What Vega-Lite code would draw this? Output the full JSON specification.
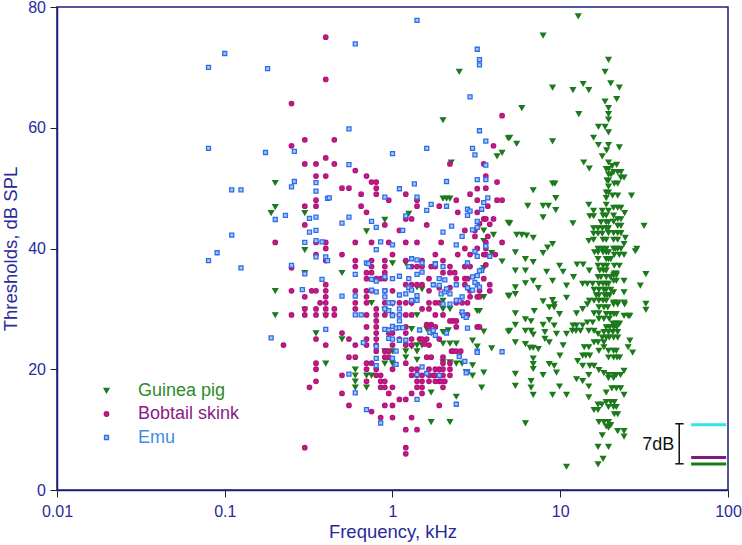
{
"$schema": "https://vega.github.io/schema/vega-lite/v6.json",
"width": 671, "height": 483,
"autosize": {"type": "none"},
"padding": {"left": 57, "top": 7, "right": 14, "bottom": 55},
"background": "white",
"config": {"view": {"stroke": "#1d1d80", "strokeWidth": 1.5}, "font": "Liberation Sans"},
"datasets": {
"pts": [
{"sp":"Guinea pig","f":0.2,"t":50.9},{"sp":"Guinea pig","f":0.2,"t":46.9},{"sp":"Guinea pig","f":0.189,"t":45.9},{"sp":"Guinea pig","f":0.3,"t":45.9},{"sp":"Guinea pig","f":0.3,"t":39.8},{"sp":"Guinea pig","f":0.3,"t":36.0},{"sp":"Guinea pig","f":0.2,"t":33.0},{"sp":"Guinea pig","f":0.2,"t":29.0},{"sp":"Guinea pig","f":0.3,"t":29.9},{"sp":"Guinea pig","f":0.35,"t":26.0},{"sp":"Guinea pig","f":0.4,"t":28.9},{"sp":"Guinea pig","f":0.4,"t":21.0},{"sp":"Guinea pig","f":0.5,"t":36.0},{"sp":"Guinea pig","f":0.5,"t":25.0},{"sp":"Guinea pig","f":0.6,"t":20.0},{"sp":"Guinea pig","f":0.6,"t":19.0},{"sp":"Guinea pig","f":0.6,"t":18.0},{"sp":"Guinea pig","f":0.6,"t":17.0},{"sp":"Guinea pig","f":0.7,"t":19.0},{"sp":"Guinea pig","f":0.75,"t":19.0},{"sp":"Guinea pig","f":0.7,"t":17.0},{"sp":"Guinea pig","f":0.7,"t":42.9},{"sp":"Guinea pig","f":0.75,"t":31.0},{"sp":"Guinea pig","f":0.9,"t":44.8},{"sp":"Guinea pig","f":0.9,"t":29.9},{"sp":"Guinea pig","f":0.9,"t":23.0},{"sp":"Guinea pig","f":0.9,"t":21.0},{"sp":"Guinea pig","f":1.0,"t":37.6},{"sp":"Guinea pig","f":1.0,"t":30.9},{"sp":"Guinea pig","f":1.0,"t":23.0},{"sp":"Guinea pig","f":1.0,"t":21.0},{"sp":"Guinea pig","f":1.2,"t":37.6},{"sp":"Guinea pig","f":1.2,"t":23.0},{"sp":"Guinea pig","f":1.2,"t":22.0},{"sp":"Guinea pig","f":1.25,"t":45.8},{"sp":"Guinea pig","f":1.3,"t":30.9},{"sp":"Guinea pig","f":1.3,"t":26.7},{"sp":"Guinea pig","f":1.3,"t":23.8},{"sp":"Guinea pig","f":1.4,"t":33.6},{"sp":"Guinea pig","f":1.4,"t":29.0},{"sp":"Guinea pig","f":1.4,"t":24.0},{"sp":"Guinea pig","f":1.4,"t":23.0},{"sp":"Guinea pig","f":1.4,"t":21.6},{"sp":"Guinea pig","f":1.5,"t":33.3},{"sp":"Guinea pig","f":1.5,"t":24.0},{"sp":"Guinea pig","f":1.6,"t":26.7},{"sp":"Guinea pig","f":1.7,"t":26.0},{"sp":"Guinea pig","f":1.7,"t":11.3},{"sp":"Guinea pig","f":1.7,"t":16.2},{"sp":"Guinea pig","f":2.0,"t":61.3},{"sp":"Guinea pig","f":2.0,"t":48.3},{"sp":"Guinea pig","f":2.1,"t":48.3},{"sp":"Guinea pig","f":2.2,"t":48.3},{"sp":"Guinea pig","f":2.24,"t":54.3},{"sp":"Guinea pig","f":2.5,"t":69.3},{"sp":"Guinea pig","f":2.0,"t":31.4},{"sp":"Guinea pig","f":2.0,"t":30.0},{"sp":"Guinea pig","f":2.2,"t":30.0},{"sp":"Guinea pig","f":2.6,"t":29.0},{"sp":"Guinea pig","f":2.0,"t":26.2},{"sp":"Guinea pig","f":2.15,"t":26.5},{"sp":"Guinea pig","f":2.0,"t":24.3},{"sp":"Guinea pig","f":2.2,"t":24.3},{"sp":"Guinea pig","f":2.4,"t":24.3},{"sp":"Guinea pig","f":2.0,"t":21.2},{"sp":"Guinea pig","f":2.2,"t":21.2},{"sp":"Guinea pig","f":2.4,"t":21.0},{"sp":"Guinea pig","f":2.6,"t":21.0},{"sp":"Guinea pig","f":2.2,"t":11.3},{"sp":"Guinea pig","f":2.4,"t":15.5},{"sp":"Guinea pig","f":2.75,"t":19.6},{"sp":"Guinea pig","f":3.0,"t":20.7},{"sp":"Guinea pig","f":3.0,"t":19.0},{"sp":"Guinea pig","f":3.0,"t":24.8},{"sp":"Guinea pig","f":3.2,"t":23.8},{"sp":"Guinea pig","f":3.2,"t":29.7},{"sp":"Guinea pig","f":3.3,"t":29.7},{"sp":"Guinea pig","f":3.4,"t":17.0},{"sp":"Guinea pig","f":3.5,"t":19.5},{"sp":"Guinea pig","f":3.5,"t":26.3},{"sp":"Guinea pig","f":3.5,"t":32.0},{"sp":"Guinea pig","f":3.5,"t":36.8},{"sp":"Guinea pig","f":3.5,"t":43.0},{"sp":"Guinea pig","f":3.5,"t":41.3},{"sp":"Guinea pig","f":3.9,"t":23.5},{"sp":"Guinea pig","f":3.9,"t":39.3},{"sp":"Guinea pig","f":4.0,"t":42.3},{"sp":"Guinea pig","f":4.2,"t":55.3},{"sp":"Guinea pig","f":4.5,"t":55.9},{"sp":"Guinea pig","f":4.5,"t":37.9},{"sp":"Guinea pig","f":4.9,"t":58.3},{"sp":"Guinea pig","f":4.9,"t":44.3},{"sp":"Guinea pig","f":4.9,"t":32.2},{"sp":"Guinea pig","f":4.9,"t":26.3},
{"sp":"Guinea pig","f":12.8,"t":78.5},{"sp":"Guinea pig","f":7.9,"t":75.3},{"sp":"Guinea pig","f":19.4,"t":71.3},{"sp":"Guinea pig","f":18.5,"t":69.3},{"sp":"Guinea pig","f":20.0,"t":67.4},{"sp":"Guinea pig","f":13.7,"t":67.3},{"sp":"Guinea pig","f":14.8,"t":66.3},{"sp":"Guinea pig","f":22.5,"t":66.7},{"sp":"Guinea pig","f":9.0,"t":66.7},{"sp":"Guinea pig","f":11.9,"t":66.3},{"sp":"Guinea pig","f":21.7,"t":64.8},{"sp":"Guinea pig","f":18.5,"t":64.4},{"sp":"Guinea pig","f":5.9,"t":63.3},{"sp":"Guinea pig","f":12.9,"t":62.3},{"sp":"Guinea pig","f":19.4,"t":63.3},{"sp":"Guinea pig","f":19.4,"t":62.3},{"sp":"Guinea pig","f":19.4,"t":61.4},{"sp":"Guinea pig","f":16.9,"t":60.2},{"sp":"Guinea pig","f":18.5,"t":60.2},{"sp":"Guinea pig","f":19.4,"t":59.3},{"sp":"Guinea pig","f":5.0,"t":58.4},{"sp":"Guinea pig","f":5.5,"t":57.4},{"sp":"Guinea pig","f":9.0,"t":57.8},{"sp":"Guinea pig","f":15.8,"t":58.4},{"sp":"Guinea pig","f":16.9,"t":57.2},{"sp":"Guinea pig","f":19.4,"t":57.2},{"sp":"Guinea pig","f":22.5,"t":56.8},{"sp":"Guinea pig","f":18.9,"t":56.3},{"sp":"Guinea pig","f":17.8,"t":55.3},{"sp":"Guinea pig","f":13.8,"t":54.3},{"sp":"Guinea pig","f":14.9,"t":53.3},{"sp":"Guinea pig","f":19.4,"t":54.3},{"sp":"Guinea pig","f":20.4,"t":53.7},{"sp":"Guinea pig","f":21.7,"t":53.9},{"sp":"Guinea pig","f":18.8,"t":53.2},{"sp":"Guinea pig","f":19.4,"t":53.2},{"sp":"Guinea pig","f":20.8,"t":52.7},{"sp":"Guinea pig","f":22.0,"t":52.7},{"sp":"Guinea pig","f":23.0,"t":52.7},{"sp":"Guinea pig","f":19.4,"t":52.3},{"sp":"Guinea pig","f":20.1,"t":52.3},{"sp":"Guinea pig","f":23.0,"t":51.8},{"sp":"Guinea pig","f":24.0,"t":51.8},{"sp":"Guinea pig","f":19.0,"t":51.3},{"sp":"Guinea pig","f":19.4,"t":51.3},{"sp":"Guinea pig","f":21.0,"t":50.8},{"sp":"Guinea pig","f":22.0,"t":50.8},{"sp":"Guinea pig","f":19.4,"t":50.3},{"sp":"Guinea pig","f":9.0,"t":50.8},{"sp":"Guinea pig","f":9.3,"t":50.8},{"sp":"Guinea pig","f":6.9,"t":49.7},{"sp":"Guinea pig","f":18.8,"t":49.3},{"sp":"Guinea pig","f":19.4,"t":49.3},{"sp":"Guinea pig","f":20.5,"t":48.8},{"sp":"Guinea pig","f":22.0,"t":48.8},{"sp":"Guinea pig","f":26.6,"t":48.8},{"sp":"Guinea pig","f":18.8,"t":48.4},{"sp":"Guinea pig","f":9.4,"t":48.4},{"sp":"Guinea pig","f":6.4,"t":47.1},{"sp":"Guinea pig","f":7.9,"t":47.1},{"sp":"Guinea pig","f":8.5,"t":47.1},{"sp":"Guinea pig","f":9.4,"t":46.4},{"sp":"Guinea pig","f":14.8,"t":47.3},{"sp":"Guinea pig","f":18.8,"t":47.3},{"sp":"Guinea pig","f":15.8,"t":46.3},{"sp":"Guinea pig","f":17.8,"t":46.3},{"sp":"Guinea pig","f":19.4,"t":46.3},{"sp":"Guinea pig","f":20.8,"t":46.8},{"sp":"Guinea pig","f":22.0,"t":46.8},{"sp":"Guinea pig","f":23.0,"t":46.8},{"sp":"Guinea pig","f":15.0,"t":45.4},{"sp":"Guinea pig","f":15.8,"t":45.4},{"sp":"Guinea pig","f":18.0,"t":45.5},{"sp":"Guinea pig","f":18.8,"t":45.5},{"sp":"Guinea pig","f":20.8,"t":45.5},{"sp":"Guinea pig","f":24.2,"t":45.9},{"sp":"Guinea pig","f":7.9,"t":45.2},{"sp":"Guinea pig","f":22.0,"t":44.9},{"sp":"Guinea pig","f":23.0,"t":44.9},{"sp":"Guinea pig","f":5.0,"t":44.2},{"sp":"Guinea pig","f":11.9,"t":44.2},{"sp":"Guinea pig","f":17.5,"t":44.4},{"sp":"Guinea pig","f":18.8,"t":44.4},{"sp":"Guinea pig","f":19.4,"t":44.4},{"sp":"Guinea pig","f":20.8,"t":44.5},{"sp":"Guinea pig","f":31.6,"t":43.8},{"sp":"Guinea pig","f":15.8,"t":43.4},{"sp":"Guinea pig","f":16.8,"t":43.4},{"sp":"Guinea pig","f":17.8,"t":43.4},{"sp":"Guinea pig","f":18.8,"t":43.4},{"sp":"Guinea pig","f":19.4,"t":43.4},{"sp":"Guinea pig","f":22.0,"t":43.8},{"sp":"Guinea pig","f":23.0,"t":43.8},{"sp":"Guinea pig","f":5.5,"t":42.3},{"sp":"Guinea pig","f":5.9,"t":42.3},{"sp":"Guinea pig","f":6.3,"t":42.2},{"sp":"Guinea pig","f":6.9,"t":41.8},{"sp":"Guinea pig","f":8.4,"t":40.2},{"sp":"Guinea pig","f":9.0,"t":40.8},{"sp":"Guinea pig","f":15.8,"t":42.5},{"sp":"Guinea pig","f":16.8,"t":42.5},{"sp":"Guinea pig","f":17.8,"t":42.5},{"sp":"Guinea pig","f":19.4,"t":42.6},{"sp":"Guinea pig","f":20.8,"t":42.6},{"sp":"Guinea pig","f":22.0,"t":42.6},{"sp":"Guinea pig","f":23.0,"t":42.6},{"sp":"Guinea pig","f":14.8,"t":41.3},{"sp":"Guinea pig","f":15.8,"t":41.5},{"sp":"Guinea pig","f":18.0,"t":41.5},{"sp":"Guinea pig","f":18.8,"t":41.5},{"sp":"Guinea pig","f":20.8,"t":41.5},{"sp":"Guinea pig","f":22.0,"t":41.5},{"sp":"Guinea pig","f":24.4,"t":41.8},{"sp":"Guinea pig","f":24.0,"t":40.8},{"sp":"Guinea pig","f":28.6,"t":40.0},{"sp":"Guinea pig","f":16.8,"t":40.0},{"sp":"Guinea pig","f":17.8,"t":40.0},{"sp":"Guinea pig","f":18.8,"t":40.0},{"sp":"Guinea pig","f":20.8,"t":40.0},{"sp":"Guinea pig","f":21.3,"t":40.0},{"sp":"Guinea pig","f":22.0,"t":40.0},{"sp":"Guinea pig","f":23.0,"t":40.0},
{"sp":"Guinea pig","f":5.4,"t":39.4},{"sp":"Guinea pig","f":7.9,"t":39.3},{"sp":"Guinea pig","f":16.0,"t":39.4},{"sp":"Guinea pig","f":16.8,"t":39.4},{"sp":"Guinea pig","f":18.0,"t":39.4},{"sp":"Guinea pig","f":18.8,"t":39.4},{"sp":"Guinea pig","f":19.4,"t":39.4},{"sp":"Guinea pig","f":21.0,"t":39.0},{"sp":"Guinea pig","f":22.5,"t":39.0},{"sp":"Guinea pig","f":24.0,"t":39.0},{"sp":"Guinea pig","f":28.0,"t":39.6},{"sp":"Guinea pig","f":6.2,"t":38.3},{"sp":"Guinea pig","f":6.9,"t":37.8},{"sp":"Guinea pig","f":9.9,"t":37.2},{"sp":"Guinea pig","f":12.6,"t":37.4},{"sp":"Guinea pig","f":13.7,"t":37.4},{"sp":"Guinea pig","f":16.8,"t":38.3},{"sp":"Guinea pig","f":18.8,"t":38.3},{"sp":"Guinea pig","f":19.4,"t":38.3},{"sp":"Guinea pig","f":20.0,"t":38.3},{"sp":"Guinea pig","f":16.8,"t":37.2},{"sp":"Guinea pig","f":18.0,"t":37.2},{"sp":"Guinea pig","f":19.0,"t":37.2},{"sp":"Guinea pig","f":21.0,"t":37.2},{"sp":"Guinea pig","f":22.5,"t":37.2},{"sp":"Guinea pig","f":5.4,"t":36.4},{"sp":"Guinea pig","f":6.2,"t":36.4},{"sp":"Guinea pig","f":8.3,"t":36.2},{"sp":"Guinea pig","f":10.4,"t":36.2},{"sp":"Guinea pig","f":14.9,"t":36.4},{"sp":"Guinea pig","f":17.2,"t":36.4},{"sp":"Guinea pig","f":18.1,"t":36.4},{"sp":"Guinea pig","f":18.8,"t":36.4},{"sp":"Guinea pig","f":21.0,"t":35.9},{"sp":"Guinea pig","f":21.6,"t":35.9},{"sp":"Guinea pig","f":32.4,"t":35.8},{"sp":"Guinea pig","f":12.0,"t":35.3},{"sp":"Guinea pig","f":16.8,"t":35.3},{"sp":"Guinea pig","f":17.5,"t":35.3},{"sp":"Guinea pig","f":18.8,"t":35.3},{"sp":"Guinea pig","f":19.9,"t":35.3},{"sp":"Guinea pig","f":20.8,"t":35.6},{"sp":"Guinea pig","f":21.6,"t":35.6},{"sp":"Guinea pig","f":5.4,"t":33.6},{"sp":"Guinea pig","f":5.4,"t":32.5},{"sp":"Guinea pig","f":6.2,"t":34.3},{"sp":"Guinea pig","f":6.9,"t":34.7},{"sp":"Guinea pig","f":7.4,"t":33.5},{"sp":"Guinea pig","f":9.0,"t":34.7},{"sp":"Guinea pig","f":10.9,"t":33.9},{"sp":"Guinea pig","f":13.6,"t":34.2},{"sp":"Guinea pig","f":14.5,"t":34.2},{"sp":"Guinea pig","f":15.6,"t":34.2},{"sp":"Guinea pig","f":17.0,"t":34.2},{"sp":"Guinea pig","f":18.0,"t":34.2},{"sp":"Guinea pig","f":18.8,"t":34.2},{"sp":"Guinea pig","f":19.4,"t":34.2},{"sp":"Guinea pig","f":20.8,"t":34.7},{"sp":"Guinea pig","f":21.6,"t":34.7},{"sp":"Guinea pig","f":24.0,"t":34.7},{"sp":"Guinea pig","f":30.0,"t":33.9},{"sp":"Guinea pig","f":4.97,"t":32.2},{"sp":"Guinea pig","f":7.9,"t":31.3},{"sp":"Guinea pig","f":9.0,"t":31.5},{"sp":"Guinea pig","f":9.2,"t":30.8},{"sp":"Guinea pig","f":10.9,"t":31.9},{"sp":"Guinea pig","f":15.9,"t":33.2},{"sp":"Guinea pig","f":17.0,"t":33.2},{"sp":"Guinea pig","f":18.2,"t":33.2},{"sp":"Guinea pig","f":18.8,"t":33.2},{"sp":"Guinea pig","f":20.0,"t":33.2},{"sp":"Guinea pig","f":20.8,"t":32.8},{"sp":"Guinea pig","f":24.0,"t":32.8},{"sp":"Guinea pig","f":16.4,"t":32.3},{"sp":"Guinea pig","f":17.0,"t":32.3},{"sp":"Guinea pig","f":18.4,"t":32.3},{"sp":"Guinea pig","f":19.0,"t":32.3},{"sp":"Guinea pig","f":19.7,"t":32.3},{"sp":"Guinea pig","f":14.9,"t":31.4},{"sp":"Guinea pig","f":15.9,"t":31.4},{"sp":"Guinea pig","f":17.0,"t":31.4},{"sp":"Guinea pig","f":18.0,"t":31.4},{"sp":"Guinea pig","f":18.8,"t":31.4},{"sp":"Guinea pig","f":20.8,"t":31.1},{"sp":"Guinea pig","f":22.0,"t":31.1},{"sp":"Guinea pig","f":24.0,"t":31.1},{"sp":"Guinea pig","f":14.5,"t":30.8},{"sp":"Guinea pig","f":32.4,"t":30.9},{"sp":"Guinea pig","f":32.4,"t":29.9},{"sp":"Guinea pig","f":7.0,"t":29.7},{"sp":"Guinea pig","f":8.6,"t":30.3},{"sp":"Guinea pig","f":9.2,"t":30.3},{"sp":"Guinea pig","f":12.5,"t":29.3},{"sp":"Guinea pig","f":13.6,"t":30.0},{"sp":"Guinea pig","f":17.0,"t":30.3},{"sp":"Guinea pig","f":18.2,"t":30.3},{"sp":"Guinea pig","f":19.2,"t":30.3},{"sp":"Guinea pig","f":20.8,"t":30.8},{"sp":"Guinea pig","f":22.0,"t":30.8},{"sp":"Guinea pig","f":24.2,"t":30.8},{"sp":"Guinea pig","f":15.9,"t":29.3},{"sp":"Guinea pig","f":17.0,"t":29.3},{"sp":"Guinea pig","f":18.8,"t":29.2},{"sp":"Guinea pig","f":19.9,"t":29.2},{"sp":"Guinea pig","f":20.9,"t":29.2},{"sp":"Guinea pig","f":21.6,"t":29.2},{"sp":"Guinea pig","f":24.0,"t":28.9},{"sp":"Guinea pig","f":25.4,"t":28.9},{"sp":"Guinea pig","f":26.0,"t":28.9},{"sp":"Guinea pig","f":5.4,"t":29.3},{"sp":"Guinea pig","f":6.2,"t":28.3},{"sp":"Guinea pig","f":6.7,"t":28.0},{"sp":"Guinea pig","f":5.0,"t":26.4},{"sp":"Guinea pig","f":5.4,"t":27.4},{"sp":"Guinea pig","f":7.9,"t":27.4},{"sp":"Guinea pig","f":8.6,"t":28.2},{"sp":"Guinea pig","f":9.9,"t":29.2},{"sp":"Guinea pig","f":9.2,"t":27.3},{"sp":"Guinea pig","f":11.9,"t":27.3},{"sp":"Guinea pig","f":12.5,"t":27.3},{"sp":"Guinea pig","f":13.6,"t":27.3},{"sp":"Guinea pig","f":14.5,"t":27.8},{"sp":"Guinea pig","f":15.6,"t":27.8},{"sp":"Guinea pig","f":17.0,"t":28.4},{"sp":"Guinea pig","f":18.2,"t":28.4},{"sp":"Guinea pig","f":19.6,"t":28.4},{"sp":"Guinea pig","f":20.6,"t":27.6},{"sp":"Guinea pig","f":21.6,"t":27.6},{"sp":"Guinea pig","f":22.6,"t":27.6},{"sp":"Guinea pig","f":18.8,"t":27.0},{"sp":"Guinea pig","f":19.7,"t":27.0},{"sp":"Guinea pig","f":20.8,"t":27.0},{"sp":"Guinea pig","f":21.7,"t":27.0},{"sp":"Guinea pig","f":6.2,"t":26.4},{"sp":"Guinea pig","f":6.7,"t":26.4},{"sp":"Guinea pig","f":6.9,"t":25.8},{"sp":"Guinea pig","f":8.1,"t":26.2},{"sp":"Guinea pig","f":8.1,"t":25.1},{"sp":"Guinea pig","f":9.5,"t":25.9},{"sp":"Guinea pig","f":10.9,"t":25.9},{"sp":"Guinea pig","f":11.8,"t":26.4},{"sp":"Guinea pig","f":12.4,"t":26.4},{"sp":"Guinea pig","f":13.2,"t":26.4},{"sp":"Guinea pig","f":14.8,"t":26.4},{"sp":"Guinea pig","f":15.9,"t":26.4},{"sp":"Guinea pig","f":16.8,"t":25.9},{"sp":"Guinea pig","f":18.2,"t":26.2},{"sp":"Guinea pig","f":19.4,"t":26.2},{"sp":"Guinea pig","f":20.6,"t":26.2},{"sp":"Guinea pig","f":22.0,"t":26.2},{"sp":"Guinea pig","f":17.8,"t":25.3},{"sp":"Guinea pig","f":18.8,"t":25.3},{"sp":"Guinea pig","f":19.6,"t":25.3},{"sp":"Guinea pig","f":20.8,"t":25.3},{"sp":"Guinea pig","f":22.0,"t":25.3},{"sp":"Guinea pig","f":26.0,"t":24.8},{"sp":"Guinea pig","f":5.4,"t":24.5},{"sp":"Guinea pig","f":6.2,"t":24.2},{"sp":"Guinea pig","f":6.6,"t":23.6},{"sp":"Guinea pig","f":6.9,"t":23.6},{"sp":"Guinea pig","f":7.4,"t":23.4},{"sp":"Guinea pig","f":8.6,"t":24.5},{"sp":"Guinea pig","f":10.4,"t":24.0},{"sp":"Guinea pig","f":13.9,"t":23.7},{"sp":"Guinea pig","f":14.8,"t":23.7},{"sp":"Guinea pig","f":15.9,"t":24.5},{"sp":"Guinea pig","f":16.8,"t":24.5},{"sp":"Guinea pig","f":18.2,"t":24.5},{"sp":"Guinea pig","f":19.4,"t":23.1},{"sp":"Guinea pig","f":20.8,"t":23.1},{"sp":"Guinea pig","f":21.6,"t":23.1},{"sp":"Guinea pig","f":17.0,"t":23.1},{"sp":"Guinea pig","f":18.2,"t":23.7},{"sp":"Guinea pig","f":25.4,"t":23.7},{"sp":"Guinea pig","f":27.0,"t":22.8},{"sp":"Guinea pig","f":19.4,"t":22.0},{"sp":"Guinea pig","f":20.8,"t":22.0},{"sp":"Guinea pig","f":21.8,"t":22.0},{"sp":"Guinea pig","f":22.6,"t":22.0},{"sp":"Guinea pig","f":12.7,"t":21.4},{"sp":"Guinea pig","f":13.6,"t":22.3},{"sp":"Guinea pig","f":14.2,"t":22.3},{"sp":"Guinea pig","f":15.0,"t":22.3},{"sp":"Guinea pig","f":9.2,"t":20.6},{"sp":"Guinea pig","f":8.6,"t":20.9},{"sp":"Guinea pig","f":9.95,"t":22.3},{"sp":"Guinea pig","f":6.9,"t":21.8},{"sp":"Guinea pig","f":6.9,"t":20.9},{"sp":"Guinea pig","f":6.9,"t":20.1},{"sp":"Guinea pig","f":13.6,"t":20.6},{"sp":"Guinea pig","f":15.0,"t":20.6},{"sp":"Guinea pig","f":15.9,"t":20.6},{"sp":"Guinea pig","f":17.0,"t":19.9},{"sp":"Guinea pig","f":18.2,"t":19.4},{"sp":"Guinea pig","f":19.4,"t":19.1},{"sp":"Guinea pig","f":20.8,"t":19.1},{"sp":"Guinea pig","f":21.6,"t":19.1},{"sp":"Guinea pig","f":22.9,"t":19.1},{"sp":"Guinea pig","f":24.0,"t":19.8},{"sp":"Guinea pig","f":7.9,"t":19.1},{"sp":"Guinea pig","f":9.5,"t":19.5},{"sp":"Guinea pig","f":14.8,"t":19.1},{"sp":"Guinea pig","f":5.4,"t":19.3},{"sp":"Guinea pig","f":19.4,"t":18.6},{"sp":"Guinea pig","f":20.8,"t":18.6},{"sp":"Guinea pig","f":12.5,"t":18.4},{"sp":"Guinea pig","f":13.6,"t":18.1},{"sp":"Guinea pig","f":6.7,"t":18.1},{"sp":"Guinea pig","f":6.7,"t":17.0},{"sp":"Guinea pig","f":5.4,"t":17.3},{"sp":"Guinea pig","f":9.9,"t":17.2},{"sp":"Guinea pig","f":14.8,"t":17.2},{"sp":"Guinea pig","f":6.9,"t":15.8},{"sp":"Guinea pig","f":9.0,"t":15.8},{"sp":"Guinea pig","f":10.9,"t":15.8},{"sp":"Guinea pig","f":14.8,"t":15.4},{"sp":"Guinea pig","f":18.8,"t":16.2},{"sp":"Guinea pig","f":20.3,"t":16.9},{"sp":"Guinea pig","f":21.6,"t":16.9},{"sp":"Guinea pig","f":22.9,"t":16.9},{"sp":"Guinea pig","f":24.0,"t":15.8},{"sp":"Guinea pig","f":16.8,"t":14.2},{"sp":"Guinea pig","f":17.7,"t":14.2},{"sp":"Guinea pig","f":18.8,"t":14.6},{"sp":"Guinea pig","f":20.0,"t":14.6},{"sp":"Guinea pig","f":21.0,"t":14.6},{"sp":"Guinea pig","f":19.4,"t":13.8},{"sp":"Guinea pig","f":20.8,"t":13.8},{"sp":"Guinea pig","f":21.6,"t":13.8},{"sp":"Guinea pig","f":15.9,"t":13.3},{"sp":"Guinea pig","f":16.8,"t":13.3},{"sp":"Guinea pig","f":21.0,"t":12.6},{"sp":"Guinea pig","f":22.0,"t":12.6},{"sp":"Guinea pig","f":17.0,"t":11.3},{"sp":"Guinea pig","f":18.2,"t":11.3},{"sp":"Guinea pig","f":19.4,"t":11.3},{"sp":"Guinea pig","f":18.8,"t":10.6},{"sp":"Guinea pig","f":20.0,"t":10.8},{"sp":"Guinea pig","f":19.4,"t":10.4},{"sp":"Guinea pig","f":22.0,"t":9.8},{"sp":"Guinea pig","f":24.0,"t":9.8},{"sp":"Guinea pig","f":24.0,"t":8.9},{"sp":"Guinea pig","f":6.2,"t":11.1},{"sp":"Guinea pig","f":17.8,"t":9.1},{"sp":"Guinea pig","f":16.8,"t":7.2},{"sp":"Guinea pig","f":19.4,"t":7.2},{"sp":"Guinea pig","f":18.0,"t":5.2},{"sp":"Guinea pig","f":16.8,"t":4.3},{"sp":"Guinea pig","f":10.9,"t":3.9},
{"sp":"Bobtail skink","f":0.25,"t":64},{"sp":"Bobtail skink","f":0.3,"t":58},{"sp":"Bobtail skink","f":0.25,"t":57},{"sp":"Bobtail skink","f":0.4,"t":55},{"sp":"Bobtail skink","f":0.3,"t":54},{"sp":"Bobtail skink","f":0.35,"t":54},{"sp":"Bobtail skink","f":0.35,"t":52},{"sp":"Bobtail skink","f":0.4,"t":52},{"sp":"Bobtail skink","f":0.35,"t":48},{"sp":"Bobtail skink","f":0.3,"t":47},{"sp":"Bobtail skink","f":0.35,"t":47},{"sp":"Bobtail skink","f":0.3,"t":43.9},{"sp":"Bobtail skink","f":0.2,"t":41},{"sp":"Bobtail skink","f":0.35,"t":41},{"sp":"Bobtail skink","f":0.4,"t":41},{"sp":"Bobtail skink","f":0.4,"t":40},{"sp":"Bobtail skink","f":0.35,"t":39},{"sp":"Bobtail skink","f":0.4,"t":38},{"sp":"Bobtail skink","f":0.25,"t":36.8},{"sp":"Bobtail skink","f":0.4,"t":75},{"sp":"Bobtail skink","f":0.4,"t":68},{"sp":"Bobtail skink","f":0.45,"t":58},{"sp":"Bobtail skink","f":4.0,"t":57},{"sp":"Bobtail skink","f":0.45,"t":54},{"sp":"Bobtail skink","f":2.2,"t":54},{"sp":"Bobtail skink","f":3.5,"t":54},{"sp":"Bobtail skink","f":0.6,"t":52.9},{"sp":"Bobtail skink","f":0.7,"t":52},{"sp":"Bobtail skink","f":3.6,"t":52},{"sp":"Bobtail skink","f":0.75,"t":51},{"sp":"Bobtail skink","f":0.8,"t":51},{"sp":"Bobtail skink","f":4.2,"t":51},{"sp":"Bobtail skink","f":0.5,"t":50},{"sp":"Bobtail skink","f":0.55,"t":50},{"sp":"Bobtail skink","f":0.8,"t":50},{"sp":"Bobtail skink","f":3.6,"t":50},{"sp":"Bobtail skink","f":3.2,"t":49.9},{"sp":"Bobtail skink","f":0.65,"t":49},{"sp":"Bobtail skink","f":0.8,"t":49},{"sp":"Bobtail skink","f":1.2,"t":49},{"sp":"Bobtail skink","f":2.9,"t":49},{"sp":"Bobtail skink","f":0.95,"t":48},{"sp":"Bobtail skink","f":1.4,"t":48},{"sp":"Bobtail skink","f":2.4,"t":48},{"sp":"Bobtail skink","f":3.2,"t":48},{"sp":"Bobtail skink","f":4.2,"t":48},{"sp":"Bobtail skink","f":4.5,"t":48},{"sp":"Bobtail skink","f":1.9,"t":47},{"sp":"Bobtail skink","f":1.4,"t":47},{"sp":"Bobtail skink","f":0.65,"t":47},{"sp":"Bobtail skink","f":3.7,"t":47},{"sp":"Bobtail skink","f":0.7,"t":46},{"sp":"Bobtail skink","f":2.45,"t":46},{"sp":"Bobtail skink","f":3.2,"t":46},{"sp":"Bobtail skink","f":0.9,"t":43.9},{"sp":"Bobtail skink","f":1.6,"t":43.9},{"sp":"Bobtail skink","f":1.1,"t":43},{"sp":"Bobtail skink","f":2.7,"t":43},{"sp":"Bobtail skink","f":3.1,"t":43},{"sp":"Bobtail skink","f":1.2,"t":44.9},{"sp":"Bobtail skink","f":1.3,"t":44.9},{"sp":"Bobtail skink","f":3.5,"t":44.9},{"sp":"Bobtail skink","f":3.6,"t":44.9},{"sp":"Bobtail skink","f":4.0,"t":44.9},{"sp":"Bobtail skink","f":3.3,"t":44.1},{"sp":"Bobtail skink","f":3.8,"t":44},{"sp":"Bobtail skink","f":3.1,"t":42},{"sp":"Bobtail skink","f":3.7,"t":42},{"sp":"Bobtail skink","f":0.6,"t":41},{"sp":"Bobtail skink","f":0.75,"t":41},{"sp":"Bobtail skink","f":0.95,"t":41},{"sp":"Bobtail skink","f":1.2,"t":41},{"sp":"Bobtail skink","f":1.4,"t":41},{"sp":"Bobtail skink","f":1.95,"t":41},{"sp":"Bobtail skink","f":3.6,"t":41},{"sp":"Bobtail skink","f":4.5,"t":41},{"sp":"Bobtail skink","f":2.7,"t":40},{"sp":"Bobtail skink","f":3.2,"t":40},{"sp":"Bobtail skink","f":3.6,"t":40},{"sp":"Bobtail skink","f":4.5,"t":62},{"sp":"Bobtail skink","f":4.1,"t":39},{"sp":"Bobtail skink","f":0.5,"t":39},{"sp":"Bobtail skink","f":1.0,"t":39},{"sp":"Bobtail skink","f":1.8,"t":39},{"sp":"Bobtail skink","f":2.45,"t":39},{"sp":"Bobtail skink","f":2.9,"t":39},{"sp":"Bobtail skink","f":3.5,"t":39},{"sp":"Bobtail skink","f":3.6,"t":39},{"sp":"Bobtail skink","f":0.6,"t":38},{"sp":"Bobtail skink","f":0.75,"t":38},{"sp":"Bobtail skink","f":0.9,"t":38},{"sp":"Bobtail skink","f":1.2,"t":38},{"sp":"Bobtail skink","f":1.5,"t":38},{"sp":"Bobtail skink","f":2.0,"t":38},{"sp":"Bobtail skink","f":0.6,"t":37},{"sp":"Bobtail skink","f":0.75,"t":37},{"sp":"Bobtail skink","f":0.9,"t":37},{"sp":"Bobtail skink","f":1.3,"t":37},{"sp":"Bobtail skink","f":1.4,"t":37},{"sp":"Bobtail skink","f":1.5,"t":37},{"sp":"Bobtail skink","f":1.7,"t":37},{"sp":"Bobtail skink","f":1.8,"t":37},{"sp":"Bobtail skink","f":2.2,"t":37},{"sp":"Bobtail skink","f":2.7,"t":37},{"sp":"Bobtail skink","f":2.9,"t":37},{"sp":"Bobtail skink","f":3.6,"t":37.3},{"sp":"Bobtail skink","f":0.7,"t":36},{"sp":"Bobtail skink","f":0.75,"t":36},{"sp":"Bobtail skink","f":0.9,"t":36},{"sp":"Bobtail skink","f":2.0,"t":36},{"sp":"Bobtail skink","f":2.2,"t":36},{"sp":"Bobtail skink","f":2.35,"t":36},{"sp":"Bobtail skink","f":0.7,"t":35},{"sp":"Bobtail skink","f":0.8,"t":35},{"sp":"Bobtail skink","f":0.85,"t":35},{"sp":"Bobtail skink","f":0.9,"t":35},{"sp":"Bobtail skink","f":1.65,"t":35},{"sp":"Bobtail skink","f":2.4,"t":35},{"sp":"Bobtail skink","f":2.7,"t":35},{"sp":"Bobtail skink","f":2.8,"t":35},{"sp":"Bobtail skink","f":3.5,"t":35},{"sp":"Bobtail skink","f":3.8,"t":34},{"sp":"Bobtail skink","f":0.4,"t":34},{"sp":"Bobtail skink","f":1.2,"t":34},{"sp":"Bobtail skink","f":1.3,"t":34},{"sp":"Bobtail skink","f":1.4,"t":34},{"sp":"Bobtail skink","f":1.5,"t":34},{"sp":"Bobtail skink","f":2.7,"t":34},{"sp":"Bobtail skink","f":0.25,"t":33},{"sp":"Bobtail skink","f":0.33,"t":33},{"sp":"Bobtail skink","f":0.35,"t":33},{"sp":"Bobtail skink","f":0.4,"t":33},{"sp":"Bobtail skink","f":0.6,"t":33},{"sp":"Bobtail skink","f":0.7,"t":33},{"sp":"Bobtail skink","f":0.75,"t":33},{"sp":"Bobtail skink","f":0.9,"t":33},{"sp":"Bobtail skink","f":1.0,"t":33},{"sp":"Bobtail skink","f":1.65,"t":33},{"sp":"Bobtail skink","f":2.9,"t":33},{"sp":"Bobtail skink","f":3.3,"t":33},{"sp":"Bobtail skink","f":3.8,"t":33},{"sp":"Bobtail skink","f":1.9,"t":33.5},{"sp":"Bobtail skink","f":2.2,"t":33.5},{"sp":"Bobtail skink","f":0.3,"t":32},{"sp":"Bobtail skink","f":0.4,"t":32},{"sp":"Bobtail skink","f":0.7,"t":32},{"sp":"Bobtail skink","f":2.9,"t":32},{"sp":"Bobtail skink","f":3.2,"t":32},{"sp":"Bobtail skink","f":3.3,"t":32},{"sp":"Bobtail skink","f":0.37,"t":31},{"sp":"Bobtail skink","f":0.4,"t":31},{"sp":"Bobtail skink","f":0.6,"t":31},{"sp":"Bobtail skink","f":0.7,"t":31},{"sp":"Bobtail skink","f":0.9,"t":31},{"sp":"Bobtail skink","f":1.0,"t":31},{"sp":"Bobtail skink","f":1.1,"t":31},{"sp":"Bobtail skink","f":1.2,"t":31},{"sp":"Bobtail skink","f":1.3,"t":31},{"sp":"Bobtail skink","f":1.65,"t":31},{"sp":"Bobtail skink","f":1.8,"t":31},{"sp":"Bobtail skink","f":1.9,"t":31},{"sp":"Bobtail skink","f":2.4,"t":31},{"sp":"Bobtail skink","f":2.6,"t":31},{"sp":"Bobtail skink","f":2.8,"t":31},{"sp":"Bobtail skink","f":0.3,"t":30},{"sp":"Bobtail skink","f":0.35,"t":30},{"sp":"Bobtail skink","f":0.4,"t":30},{"sp":"Bobtail skink","f":0.45,"t":30},{"sp":"Bobtail skink","f":0.6,"t":30},{"sp":"Bobtail skink","f":0.8,"t":30},{"sp":"Bobtail skink","f":1.5,"t":30},{"sp":"Bobtail skink","f":1.65,"t":30},{"sp":"Bobtail skink","f":0.25,"t":29},{"sp":"Bobtail skink","f":0.3,"t":29},{"sp":"Bobtail skink","f":0.35,"t":29},{"sp":"Bobtail skink","f":0.4,"t":29},{"sp":"Bobtail skink","f":0.45,"t":29},{"sp":"Bobtail skink","f":0.7,"t":29},{"sp":"Bobtail skink","f":0.8,"t":29},{"sp":"Bobtail skink","f":0.9,"t":29},{"sp":"Bobtail skink","f":1.0,"t":29},{"sp":"Bobtail skink","f":1.1,"t":29},{"sp":"Bobtail skink","f":1.2,"t":29},{"sp":"Bobtail skink","f":1.3,"t":29},{"sp":"Bobtail skink","f":1.8,"t":29},{"sp":"Bobtail skink","f":2.0,"t":29},{"sp":"Bobtail skink","f":2.8,"t":29},{"sp":"Bobtail skink","f":0.8,"t":28},{"sp":"Bobtail skink","f":2.2,"t":28},{"sp":"Bobtail skink","f":2.3,"t":28},{"sp":"Bobtail skink","f":2.4,"t":28},{"sp":"Bobtail skink","f":0.7,"t":27},{"sp":"Bobtail skink","f":0.8,"t":27},{"sp":"Bobtail skink","f":1.2,"t":27},{"sp":"Bobtail skink","f":1.6,"t":27.4},{"sp":"Bobtail skink","f":1.7,"t":27.4},{"sp":"Bobtail skink","f":1.65,"t":27},{"sp":"Bobtail skink","f":1.8,"t":27},{"sp":"Bobtail skink","f":2.4,"t":27},{"sp":"Bobtail skink","f":3.2,"t":27},{"sp":"Bobtail skink","f":3.3,"t":27},{"sp":"Bobtail skink","f":0.5,"t":26},{"sp":"Bobtail skink","f":0.8,"t":26},{"sp":"Bobtail skink","f":0.95,"t":26},{"sp":"Bobtail skink","f":1.0,"t":26},{"sp":"Bobtail skink","f":1.2,"t":26},{"sp":"Bobtail skink","f":0.224,"t":24},{"sp":"Bobtail skink","f":0.35,"t":25},{"sp":"Bobtail skink","f":0.55,"t":25},{"sp":"Bobtail skink","f":0.7,"t":25},{"sp":"Bobtail skink","f":0.8,"t":25},{"sp":"Bobtail skink","f":1.1,"t":25},{"sp":"Bobtail skink","f":1.3,"t":25},{"sp":"Bobtail skink","f":1.45,"t":25},{"sp":"Bobtail skink","f":1.5,"t":25},{"sp":"Bobtail skink","f":1.6,"t":25},{"sp":"Bobtail skink","f":1.9,"t":25},{"sp":"Bobtail skink","f":0.4,"t":24},{"sp":"Bobtail skink","f":0.6,"t":24},{"sp":"Bobtail skink","f":0.7,"t":24},{"sp":"Bobtail skink","f":0.8,"t":24},{"sp":"Bobtail skink","f":1.0,"t":24},{"sp":"Bobtail skink","f":1.2,"t":24},{"sp":"Bobtail skink","f":1.3,"t":24},{"sp":"Bobtail skink","f":1.55,"t":24.2},{"sp":"Bobtail skink","f":1.65,"t":24},{"sp":"Bobtail skink","f":0.8,"t":23},{"sp":"Bobtail skink","f":0.9,"t":23},{"sp":"Bobtail skink","f":0.95,"t":23},{"sp":"Bobtail skink","f":2.25,"t":23},{"sp":"Bobtail skink","f":2.3,"t":23},{"sp":"Bobtail skink","f":2.4,"t":23},{"sp":"Bobtail skink","f":2.55,"t":23},{"sp":"Bobtail skink","f":0.55,"t":22},{"sp":"Bobtail skink","f":0.6,"t":22},{"sp":"Bobtail skink","f":0.9,"t":22},{"sp":"Bobtail skink","f":0.95,"t":22},{"sp":"Bobtail skink","f":1.6,"t":22},{"sp":"Bobtail skink","f":1.7,"t":22},{"sp":"Bobtail skink","f":2.0,"t":22},{"sp":"Bobtail skink","f":0.35,"t":21},{"sp":"Bobtail skink","f":0.7,"t":21},{"sp":"Bobtail skink","f":0.75,"t":21},{"sp":"Bobtail skink","f":1.2,"t":21},{"sp":"Bobtail skink","f":2.0,"t":21},{"sp":"Bobtail skink","f":2.2,"t":21},{"sp":"Bobtail skink","f":0.35,"t":20},{"sp":"Bobtail skink","f":0.7,"t":20},{"sp":"Bobtail skink","f":0.8,"t":20},{"sp":"Bobtail skink","f":1.0,"t":20},{"sp":"Bobtail skink","f":1.3,"t":20},{"sp":"Bobtail skink","f":1.4,"t":20},{"sp":"Bobtail skink","f":1.65,"t":20},{"sp":"Bobtail skink","f":1.8,"t":20},{"sp":"Bobtail skink","f":1.9,"t":20},{"sp":"Bobtail skink","f":2.0,"t":20},{"sp":"Bobtail skink","f":2.2,"t":20},{"sp":"Bobtail skink","f":0.5,"t":19},{"sp":"Bobtail skink","f":0.8,"t":19},{"sp":"Bobtail skink","f":0.85,"t":19},{"sp":"Bobtail skink","f":1.3,"t":19},{"sp":"Bobtail skink","f":1.4,"t":19},{"sp":"Bobtail skink","f":1.5,"t":19},{"sp":"Bobtail skink","f":1.65,"t":19},{"sp":"Bobtail skink","f":1.75,"t":19},{"sp":"Bobtail skink","f":1.8,"t":19},{"sp":"Bobtail skink","f":1.9,"t":19},{"sp":"Bobtail skink","f":2.0,"t":19},{"sp":"Bobtail skink","f":2.2,"t":19},{"sp":"Bobtail skink","f":0.35,"t":18},{"sp":"Bobtail skink","f":0.7,"t":18},{"sp":"Bobtail skink","f":0.85,"t":18},{"sp":"Bobtail skink","f":0.9,"t":18},{"sp":"Bobtail skink","f":1.4,"t":18},{"sp":"Bobtail skink","f":1.5,"t":18},{"sp":"Bobtail skink","f":1.65,"t":18},{"sp":"Bobtail skink","f":1.8,"t":18},{"sp":"Bobtail skink","f":1.9,"t":18},{"sp":"Bobtail skink","f":1.95,"t":18},{"sp":"Bobtail skink","f":2.05,"t":18},{"sp":"Bobtail skink","f":0.32,"t":17},{"sp":"Bobtail skink","f":0.85,"t":17},{"sp":"Bobtail skink","f":0.9,"t":17},{"sp":"Bobtail skink","f":1.0,"t":17},{"sp":"Bobtail skink","f":1.4,"t":17},{"sp":"Bobtail skink","f":1.5,"t":17},{"sp":"Bobtail skink","f":2.0,"t":17},{"sp":"Bobtail skink","f":0.5,"t":16},{"sp":"Bobtail skink","f":0.95,"t":16},{"sp":"Bobtail skink","f":1.3,"t":16},{"sp":"Bobtail skink","f":1.5,"t":16},{"sp":"Bobtail skink","f":0.55,"t":14},{"sp":"Bobtail skink","f":0.9,"t":14},{"sp":"Bobtail skink","f":1.0,"t":14},{"sp":"Bobtail skink","f":1.9,"t":14},{"sp":"Bobtail skink","f":1.1,"t":15},{"sp":"Bobtail skink","f":1.2,"t":15},{"sp":"Bobtail skink","f":0.75,"t":13},{"sp":"Bobtail skink","f":0.85,"t":12},{"sp":"Bobtail skink","f":1.0,"t":12},{"sp":"Bobtail skink","f":1.3,"t":12},{"sp":"Bobtail skink","f":1.2,"t":10},{"sp":"Bobtail skink","f":1.4,"t":10},{"sp":"Bobtail skink","f":0.3,"t":7},{"sp":"Bobtail skink","f":1.2,"t":7},{"sp":"Bobtail skink","f":1.2,"t":6},
{"sp":"Emu","f":0.08,"t":70},{"sp":"Emu","f":0.1,"t":72.3},{"sp":"Emu","f":0.18,"t":69.8},{"sp":"Emu","f":0.08,"t":56.6},{"sp":"Emu","f":0.175,"t":55.9},{"sp":"Emu","f":0.26,"t":56.1},{"sp":"Emu","f":0.11,"t":49.7},{"sp":"Emu","f":0.125,"t":49.7},{"sp":"Emu","f":0.26,"t":51.1},{"sp":"Emu","f":0.25,"t":50.2},{"sp":"Emu","f":0.35,"t":50.9},{"sp":"Emu","f":0.35,"t":49.5},{"sp":"Emu","f":0.41,"t":48.3},{"sp":"Emu","f":0.23,"t":45.5},{"sp":"Emu","f":0.2,"t":44.8},{"sp":"Emu","f":0.32,"t":45},{"sp":"Emu","f":0.35,"t":45.2},{"sp":"Emu","f":0.11,"t":42.2},{"sp":"Emu","f":0.32,"t":42.7},{"sp":"Emu","f":0.35,"t":43},{"sp":"Emu","f":0.3,"t":41},{"sp":"Emu","f":0.35,"t":41.3},{"sp":"Emu","f":0.38,"t":41.1},{"sp":"Emu","f":0.09,"t":39.3},{"sp":"Emu","f":0.08,"t":38},{"sp":"Emu","f":0.35,"t":38.6},{"sp":"Emu","f":0.4,"t":38.6},{"sp":"Emu","f":0.41,"t":38},{"sp":"Emu","f":0.125,"t":36.8},{"sp":"Emu","f":0.25,"t":37.2},{"sp":"Emu","f":0.3,"t":35.8},{"sp":"Emu","f":0.38,"t":34.9},{"sp":"Emu","f":1.4,"t":77.8},{"sp":"Emu","f":0.6,"t":73.9},{"sp":"Emu","f":3.2,"t":73},{"sp":"Emu","f":3.3,"t":71.3},{"sp":"Emu","f":3.3,"t":70.4},{"sp":"Emu","f":2.9,"t":65.1},{"sp":"Emu","f":0.55,"t":59.8},{"sp":"Emu","f":3.3,"t":59.5},{"sp":"Emu","f":3.6,"t":57.8},{"sp":"Emu","f":1.0,"t":55.7},{"sp":"Emu","f":1.6,"t":56.6},{"sp":"Emu","f":3.0,"t":56.6},{"sp":"Emu","f":3.1,"t":55.5},{"sp":"Emu","f":0.55,"t":53.9},{"sp":"Emu","f":3.6,"t":53.8},{"sp":"Emu","f":1.35,"t":50.7},{"sp":"Emu","f":1.1,"t":49.9},{"sp":"Emu","f":2.1,"t":51.1},{"sp":"Emu","f":3.2,"t":51.4},{"sp":"Emu","f":3.6,"t":51.4},{"sp":"Emu","f":0.42,"t":48.4},{"sp":"Emu","f":0.9,"t":48.5},{"sp":"Emu","f":1.4,"t":48.5},{"sp":"Emu","f":1.7,"t":47.3},{"sp":"Emu","f":2.1,"t":47},{"sp":"Emu","f":3.7,"t":48.4},{"sp":"Emu","f":0.75,"t":44.5},{"sp":"Emu","f":0.8,"t":43.5},{"sp":"Emu","f":0.5,"t":44.2},{"sp":"Emu","f":0.55,"t":45.2},{"sp":"Emu","f":1.15,"t":43},{"sp":"Emu","f":1.2,"t":45.4},{"sp":"Emu","f":1.6,"t":46.3},{"sp":"Emu","f":2.8,"t":46.5},{"sp":"Emu","f":2.9,"t":46.2},{"sp":"Emu","f":3.4,"t":46.5},{"sp":"Emu","f":3.5,"t":47.6},{"sp":"Emu","f":2.8,"t":45.5},{"sp":"Emu","f":3.0,"t":43.1},{"sp":"Emu","f":3.2,"t":43.5},{"sp":"Emu","f":3.2,"t":44.5},{"sp":"Emu","f":2.25,"t":43.7},{"sp":"Emu","f":2.6,"t":42},{"sp":"Emu","f":2.0,"t":42.7},{"sp":"Emu","f":1.0,"t":40.6},{"sp":"Emu","f":0.85,"t":41.1},{"sp":"Emu","f":2.4,"t":40.6},{"sp":"Emu","f":3.6,"t":40.4},{"sp":"Emu","f":0.8,"t":39.8},{"sp":"Emu","f":3.1,"t":39.5},{"sp":"Emu","f":3.2,"t":38.7},{"sp":"Emu","f":3.8,"t":38.7},{"sp":"Emu","f":2.8,"t":37.6},{"sp":"Emu","f":1.3,"t":38.3},{"sp":"Emu","f":1.4,"t":38.1},{"sp":"Emu","f":1.5,"t":36.1},{"sp":"Emu","f":1.4,"t":35.7},{"sp":"Emu","f":2.0,"t":37},{"sp":"Emu","f":1.8,"t":37.5},{"sp":"Emu","f":0.7,"t":37.6},{"sp":"Emu","f":0.6,"t":35.7},{"sp":"Emu","f":0.9,"t":35.3},{"sp":"Emu","f":1.1,"t":35.4},{"sp":"Emu","f":3.2,"t":35.5},{"sp":"Emu","f":3.4,"t":36.4},{"sp":"Emu","f":0.72,"t":37.5},{"sp":"Emu","f":1.25,"t":37},{"sp":"Emu","f":1.5,"t":37.6},{"sp":"Emu","f":1.8,"t":37.4},{"sp":"Emu","f":3.3,"t":36.3},{"sp":"Emu","f":0.75,"t":34.9},{"sp":"Emu","f":0.8,"t":34.6},{"sp":"Emu","f":1.0,"t":35},{"sp":"Emu","f":1.25,"t":35},{"sp":"Emu","f":1.9,"t":35},{"sp":"Emu","f":2.05,"t":34.8},{"sp":"Emu","f":3.0,"t":35.3},{"sp":"Emu","f":0.29,"t":33.2},{"sp":"Emu","f":0.5,"t":32.1},{"sp":"Emu","f":0.6,"t":32.1},{"sp":"Emu","f":0.75,"t":33.1},{"sp":"Emu","f":0.8,"t":32.8},{"sp":"Emu","f":0.9,"t":33},{"sp":"Emu","f":0.9,"t":32},{"sp":"Emu","f":1.1,"t":32.3},{"sp":"Emu","f":1.2,"t":32.5},{"sp":"Emu","f":1.25,"t":33.5},{"sp":"Emu","f":1.3,"t":33.1},{"sp":"Emu","f":1.4,"t":32.2},{"sp":"Emu","f":1.75,"t":34},{"sp":"Emu","f":1.95,"t":32.5},{"sp":"Emu","f":2.05,"t":32.8},{"sp":"Emu","f":2.2,"t":32.5},{"sp":"Emu","f":2.4,"t":34},{"sp":"Emu","f":2.8,"t":33.5},{"sp":"Emu","f":3.0,"t":33.1},{"sp":"Emu","f":3.2,"t":34},{"sp":"Emu","f":3.1,"t":34.4},{"sp":"Emu","f":3.3,"t":33.6},{"sp":"Emu","f":1.9,"t":33.9},{"sp":"Emu","f":2.1,"t":33.3},{"sp":"Emu","f":0.95,"t":31},{"sp":"Emu","f":1.0,"t":31},{"sp":"Emu","f":1.3,"t":31.4},{"sp":"Emu","f":1.4,"t":31.4},{"sp":"Emu","f":2.0,"t":30.8},{"sp":"Emu","f":2.2,"t":30.8},{"sp":"Emu","f":2.5,"t":31.4},{"sp":"Emu","f":2.6,"t":32},{"sp":"Emu","f":2.4,"t":31.4},{"sp":"Emu","f":0.6,"t":29},{"sp":"Emu","f":0.65,"t":29},{"sp":"Emu","f":0.9,"t":30},{"sp":"Emu","f":0.95,"t":29.7},{"sp":"Emu","f":1.1,"t":30},{"sp":"Emu","f":1.1,"t":29},{"sp":"Emu","f":1.0,"t":28.9},{"sp":"Emu","f":1.1,"t":28},{"sp":"Emu","f":2.6,"t":29.5},{"sp":"Emu","f":2.65,"t":28.9},{"sp":"Emu","f":2.75,"t":28.6},{"sp":"Emu","f":0.4,"t":26.6},{"sp":"Emu","f":0.9,"t":26.6},{"sp":"Emu","f":0.95,"t":26.5},{"sp":"Emu","f":1.0,"t":27.1},{"sp":"Emu","f":1.05,"t":26.8},{"sp":"Emu","f":1.1,"t":26.9},{"sp":"Emu","f":1.15,"t":26.9},{"sp":"Emu","f":1.45,"t":26.5},{"sp":"Emu","f":1.67,"t":26.1},{"sp":"Emu","f":1.75,"t":26.4},{"sp":"Emu","f":2.1,"t":26},{"sp":"Emu","f":2.8,"t":26.8},{"sp":"Emu","f":0.189,"t":25.2},{"sp":"Emu","f":0.67,"t":24.4},{"sp":"Emu","f":0.8,"t":23.8},{"sp":"Emu","f":0.95,"t":25.1},{"sp":"Emu","f":1.0,"t":25},{"sp":"Emu","f":1.1,"t":24.8},{"sp":"Emu","f":1.2,"t":24.8},{"sp":"Emu","f":1.05,"t":23},{"sp":"Emu","f":1.8,"t":25.6},{"sp":"Emu","f":2.5,"t":22.1},{"sp":"Emu","f":2.7,"t":21.3},{"sp":"Emu","f":3.2,"t":23},{"sp":"Emu","f":0.8,"t":21.8},{"sp":"Emu","f":0.8,"t":20.6},{"sp":"Emu","f":1.0,"t":21.8},{"sp":"Emu","f":1.05,"t":20.8},{"sp":"Emu","f":1.5,"t":20.4},{"sp":"Emu","f":1.6,"t":19.3},{"sp":"Emu","f":1.4,"t":19.1},{"sp":"Emu","f":1.9,"t":19},{"sp":"Emu","f":2.8,"t":19.6},{"sp":"Emu","f":0.55,"t":19.2},{"sp":"Emu","f":0.6,"t":16.1},{"sp":"Emu","f":2.4,"t":14.2},{"sp":"Emu","f":1.4,"t":15},{"sp":"Emu","f":0.7,"t":13.3},{"sp":"Emu","f":0.85,"t":11.1},{"sp":"Emu","f":4.5,"t":22.9},{"sp":"Emu","f":3.2,"t":22.8},{"sp":"Emu","f":2.75,"t":19.4}
]
},
"layer": [
{
"data": {"name": "pts"},
"mark": {"type": "point", "filled": true, "strokeWidth": 1.3, "opacity": 1},
"encoding": {
"x": {"field": "f", "type": "quantitative", "scale": {"type": "log", "domain": [0.01, 100], "nice": false},
"axis": {"values": [0.01, 0.1, 1, 10, 100], "format": "~g", "title": "Frequency, kHz", "grid": false, "domainColor": "#1d1d80", "domainWidth": 1.5, "tickColor": "#222222", "tickSize": 7, "tickWidth": 1, "labelColor": "#2a2a9c", "labelFontSize": 16, "labelFont": "Liberation Sans", "labelPadding": 6, "labelFlush": false, "labelOverlap": false, "titleColor": "#2a2a9c", "titleFont": "Liberation Sans", "titleFontSize": 18.5, "titleFontWeight": "normal", "titleBaseline": "alphabetic", "titleY": 47}},
"y": {"field": "t", "type": "quantitative", "scale": {"domain": [0, 80], "nice": false},
"axis": {"values": [0, 20, 40, 60, 80], "title": "Thresholds, dB SPL", "grid": false, "domainColor": "#1d1d80", "domainWidth": 1.5, "tickColor": "#222222", "tickSize": 7, "tickWidth": 1, "labelColor": "#2a2a9c", "labelFontSize": 16, "labelFont": "Liberation Sans", "labelPadding": 4.5, "labelFlush": false, "labelOverlap": false, "titleColor": "#2a2a9c", "titleFont": "Liberation Sans", "titleFontSize": 18.5, "titleFontWeight": "normal", "titleBaseline": "alphabetic", "titleX": -40.4}},
"shape": {"field": "sp", "type": "nominal", "scale": {"domain": ["Guinea pig", "Bobtail skink", "Emu"], "range": ["triangle-down", "circle", "square"]},
"legend": {"title": null, "orient": "none", "legendX": 40.5, "legendY": 374.5, "padding": 0, "labelFontSize": 18, "labelFont": "Liberation Sans", "labelOffset": 22.5, "rowPadding": 5.5, "symbolStrokeWidth": 1.3, "labelLimit": 300, "labelColor": {"expr": "datum.value === 'Emu' ? '#3b8de8' : datum.value === 'Guinea pig' ? '#2a8c2a' : '#8a1a86'"}}},
"fill": {"field": "sp", "type": "nominal", "scale": {"domain": ["Guinea pig", "Bobtail skink", "Emu"], "range": ["#1c7a1c", "#c8188a", "#a9c6ff"]},
"legend": {"title": null, "orient": "none", "legendX": 40.5, "legendY": 374.5, "padding": 0, "labelFontSize": 18, "labelFont": "Liberation Sans", "labelOffset": 22.5, "rowPadding": 5.5, "symbolStrokeWidth": 1.3, "labelLimit": 300, "labelColor": {"expr": "datum.value === 'Emu' ? '#3b8de8' : datum.value === 'Guinea pig' ? '#2a8c2a' : '#8a1a86'"}}},
"stroke": {"field": "sp", "type": "nominal", "scale": {"domain": ["Guinea pig", "Bobtail skink", "Emu"], "range": ["#1c7a1c", "#b01478", "#2d6ee6"]},
"legend": {"title": null, "orient": "none", "legendX": 40.5, "legendY": 374.5, "padding": 0, "labelFontSize": 18, "labelFont": "Liberation Sans", "labelOffset": 22.5, "rowPadding": 5.5, "symbolStrokeWidth": 1.3, "labelLimit": 300, "labelColor": {"expr": "datum.value === 'Emu' ? '#3b8de8' : datum.value === 'Guinea pig' ? '#2a8c2a' : '#8a1a86'"}}},
"size": {"field": "sp", "type": "nominal", "scale": {"domain": ["Guinea pig", "Bobtail skink", "Emu"], "range": [24, 16, 15]},
"legend": {"title": null, "orient": "none", "legendX": 40.5, "legendY": 374.5, "padding": 0, "labelFontSize": 18, "labelFont": "Liberation Sans", "labelOffset": 22.5, "rowPadding": 5.5, "symbolStrokeWidth": 1.3, "labelLimit": 300, "labelColor": {"expr": "datum.value === 'Emu' ? '#3b8de8' : datum.value === 'Guinea pig' ? '#2a8c2a' : '#8a1a86'"}}}
}
},
{
"data": {"values": [{"f1": 60.3, "f2": 97.5, "t": 10.8}]},
"mark": {"type": "rule", "color": "#33e3ee", "strokeWidth": 3},
"encoding": {"x": {"field": "f1", "type": "quantitative", "title": "Frequency, kHz"}, "x2": {"field": "f2"}, "y": {"field": "t", "type": "quantitative", "title": "Thresholds, dB SPL"}}
},
{
"data": {"values": [{"f1": 60.3, "f2": 97.5, "t": 5.4}]},
"mark": {"type": "rule", "color": "#7d1a7d", "strokeWidth": 3},
"encoding": {"x": {"field": "f1", "type": "quantitative", "title": "Frequency, kHz"}, "x2": {"field": "f2"}, "y": {"field": "t", "type": "quantitative", "title": "Thresholds, dB SPL"}}
},
{
"data": {"values": [{"f1": 60.3, "f2": 97.5, "t": 4.3}]},
"mark": {"type": "rule", "color": "#1a7a1a", "strokeWidth": 3},
"encoding": {"x": {"field": "f1", "type": "quantitative", "title": "Frequency, kHz"}, "x2": {"field": "f2"}, "y": {"field": "t", "type": "quantitative", "title": "Thresholds, dB SPL"}}
},
{
"data": {"values": [{"f": 51.2, "t1": 4.34, "t2": 10.97}]},
"mark": {"type": "rule", "color": "#111111", "strokeWidth": 1.5},
"encoding": {"x": {"field": "f", "type": "quantitative", "title": "Frequency, kHz"}, "y": {"field": "t1", "type": "quantitative", "title": "Thresholds, dB SPL"}, "y2": {"field": "t2"}}
},
{
"data": {"values": [{"f1": 48.5, "f2": 54.4, "t": 10.97}, {"f1": 48.5, "f2": 54.4, "t": 4.34}]},
"mark": {"type": "rule", "color": "#111111", "strokeWidth": 1.5},
"encoding": {"x": {"field": "f1", "type": "quantitative", "title": "Frequency, kHz"}, "x2": {"field": "f2"}, "y": {"field": "t", "type": "quantitative", "title": "Thresholds, dB SPL"}}
},
{
"data": {"values": [{"f": 47.9, "t": 7.4, "label": "7dB"}]},
"mark": {"type": "text", "align": "right", "baseline": "middle", "fontSize": 18, "color": "#111111", "font": "Liberation Sans"},
"encoding": {"x": {"field": "f", "type": "quantitative", "title": "Frequency, kHz"}, "y": {"field": "t", "type": "quantitative", "title": "Thresholds, dB SPL"}, "text": {"field": "label"}}
}
]
}
